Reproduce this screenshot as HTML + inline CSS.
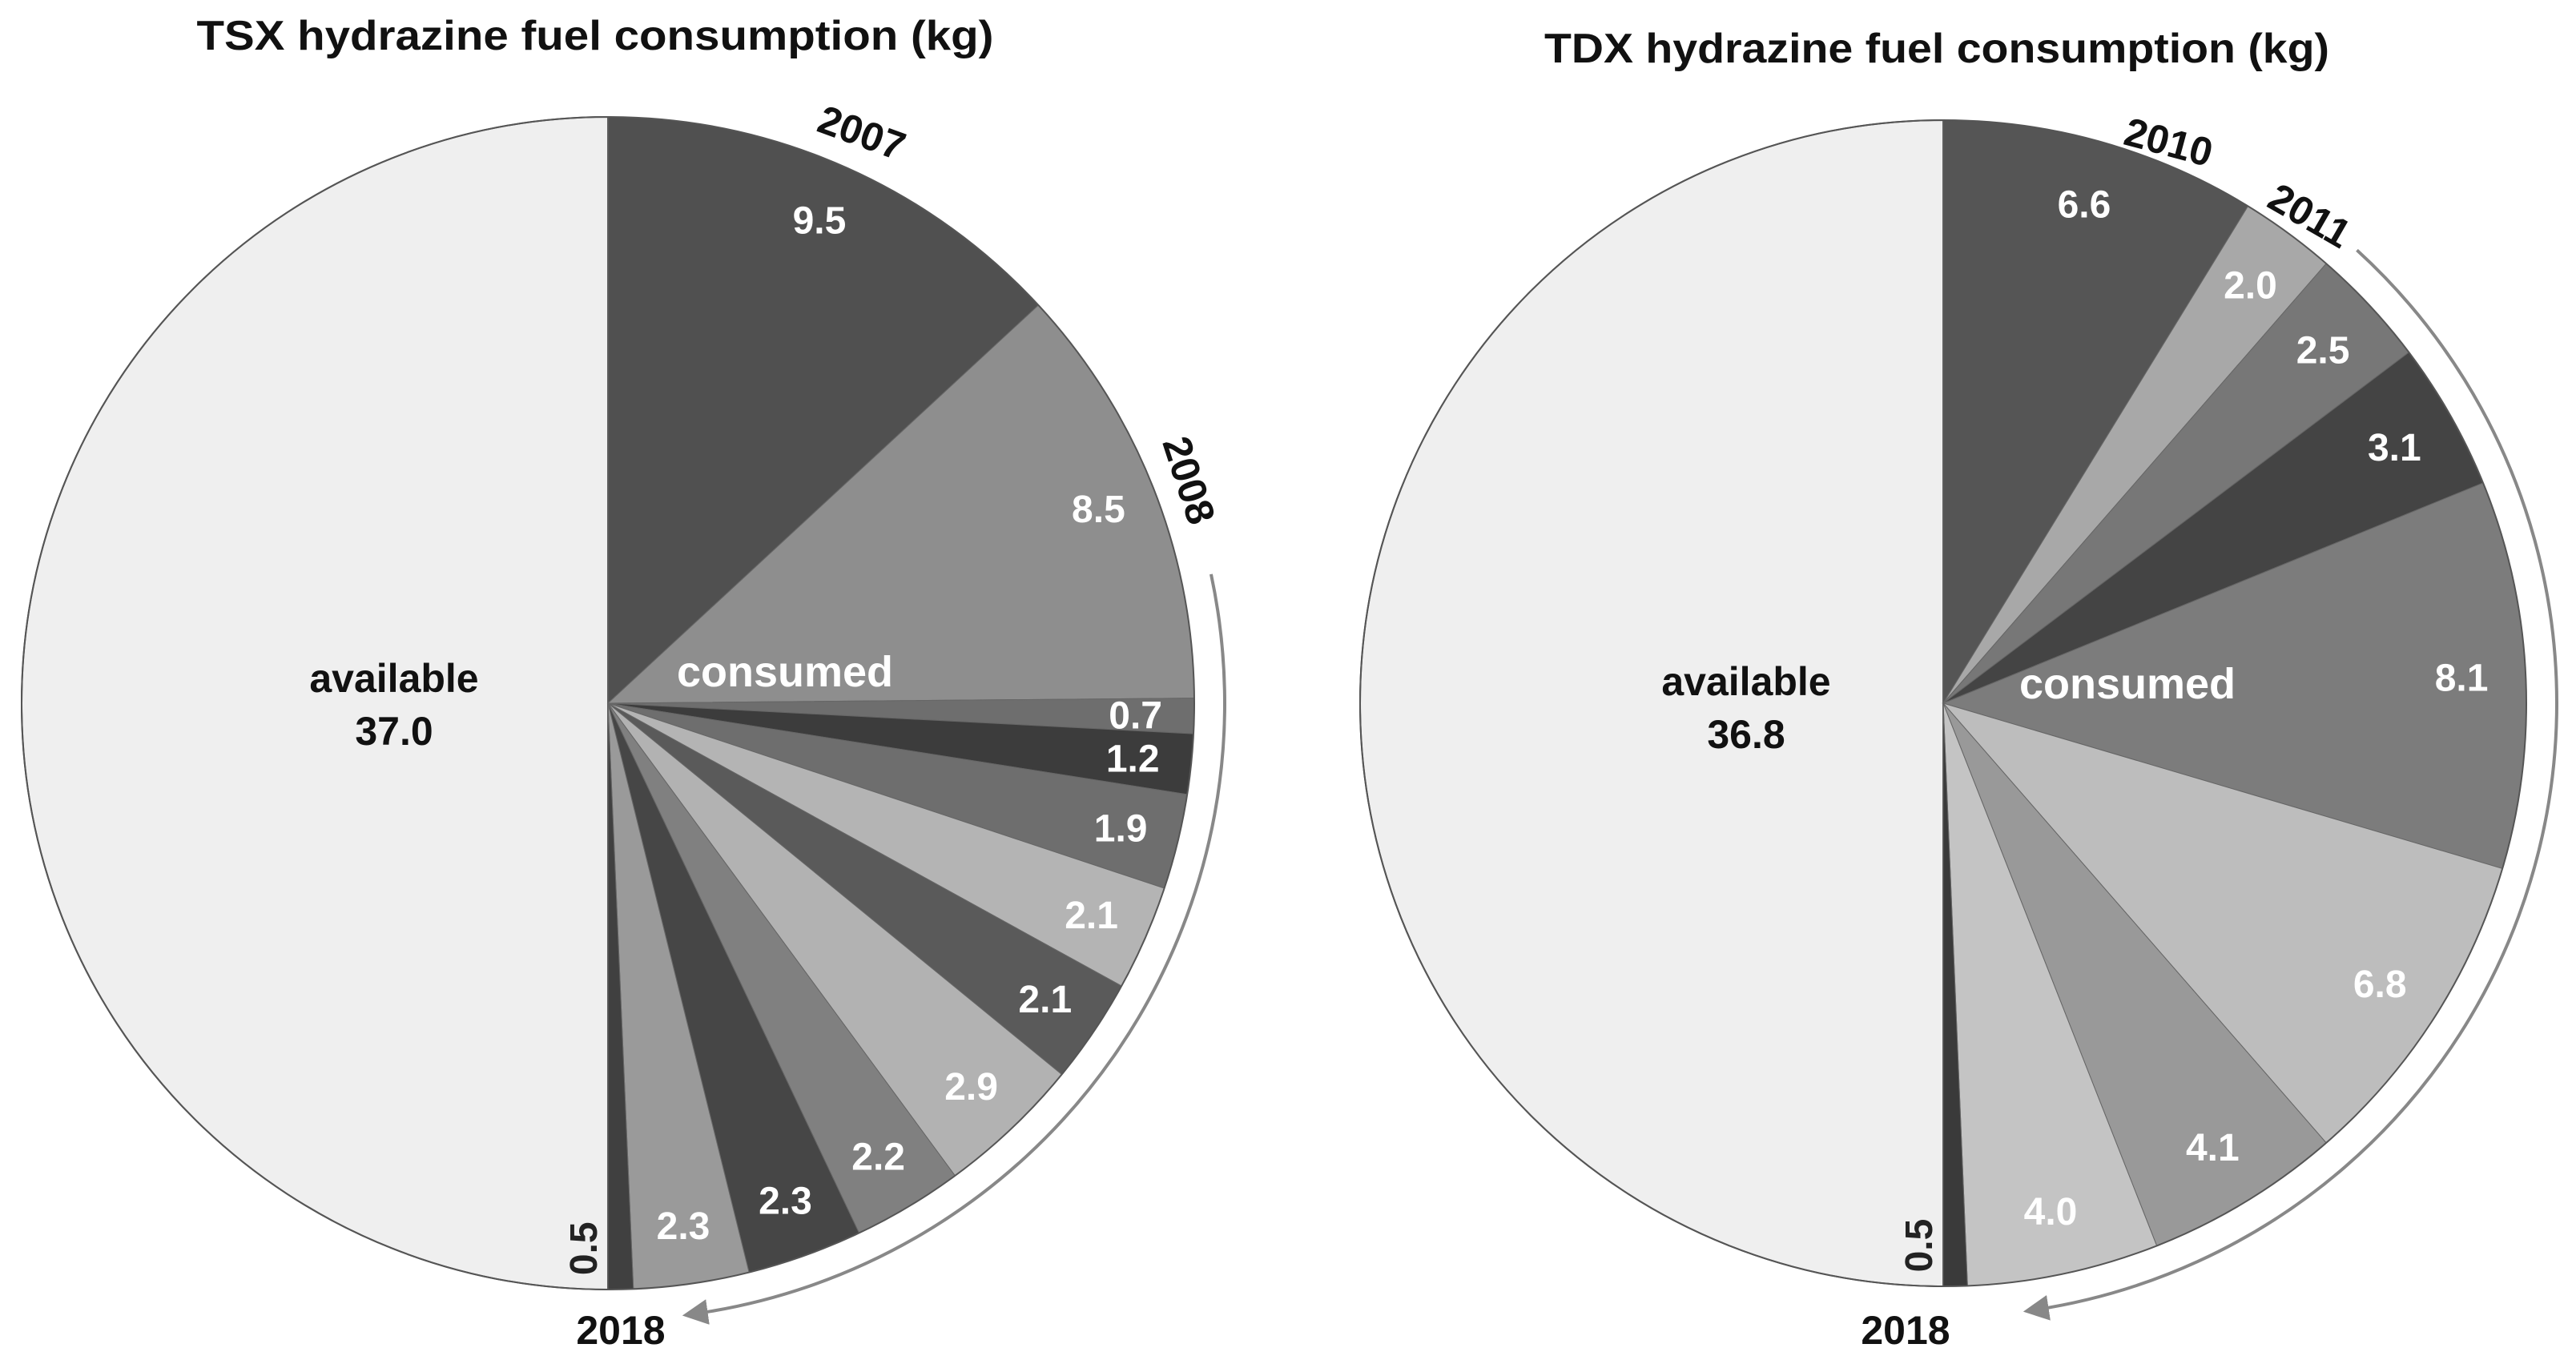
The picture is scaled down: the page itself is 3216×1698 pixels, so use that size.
<!DOCTYPE html>
<html><head><meta charset="utf-8">
<style>
html,body{margin:0;padding:0;background:#fff;}
svg{display:block;font-family:"Liberation Sans",sans-serif;}
</style></head>
<body>
<svg id="chart" width="3216" height="1698" viewBox="0 0 3216 1698" xmlns="http://www.w3.org/2000/svg">
<defs>
<marker id="arrowhead" markerWidth="8" markerHeight="8" refX="4" refY="4" orient="auto" markerUnits="strokeWidth">
<path d="M0,0 L8,4 L0,8 z" fill="#888"/>
</marker>
</defs>
<text x="743" y="62" text-anchor="middle" font-size="52" font-weight="bold" fill="#111" textLength="995" lengthAdjust="spacingAndGlyphs">TSX hydrazine fuel consumption (kg)</text>
<text x="2418" y="78" text-anchor="middle" font-size="52" font-weight="bold" fill="#111" textLength="980" lengthAdjust="spacingAndGlyphs">TDX hydrazine fuel consumption (kg)</text>
<g id="tsx"></g>
<g id="tdx"></g>
</svg>
<script>
// TSX data
const tsxLabels = ["9.5","8.5","0.7","1.2","1.9","2.1","2.1","2.9","2.2","2.3","2.3","0.5"];
const tsxValues = [9.5,8.5,0.7,1.2,1.9,2.1,2.1,2.9,2.2,2.3,2.3,0.5];
const tsxAvailable = 37.0;
const tsxColors = ["#505050","#8e8e8e","#6e6e6e","#3c3c3c","#6e6e6e","#b4b4b4","#5a5a5a","#b2b2b2","#808080","#464646","#9a9a9a","#404040"];
// TDX data
const tdxLabels = ["6.6","2.0","2.5","3.1","8.1","6.8","4.1","4.0","0.5"];
const tdxValues = [6.6,2.0,2.5,3.1,8.1,6.8,4.1,4.0,0.5];
const tdxAvailable = 36.8;
const tdxColors = ["#555555","#a8a8a8","#777777","#444444","#7c7c7c","#bdbdbd","#999999","#c4c4c4","#3a3a3a"];

const NS="http://www.w3.org/2000/svg";
function mk(tag, attrs, parent){const e=document.createElementNS(NS,tag);for(const k in attrs)e.setAttribute(k,attrs[k]);parent.appendChild(e);return e;}
function pt(cx,cy,r,a){return [cx+r*Math.sin(a), cy-r*Math.cos(a)];}

function drawPie(g, prefix, values, labels, colors, available, cx, cy, r, opts){
  const consumedTotal = values.reduce((s,v)=>s+v,0);
  let a0 = 0;
  const p1=pt(cx,cy,r,Math.PI), p2=pt(cx,cy,r,2*Math.PI);
  const av = mk('path',{d:`M${cx},${cy} L${p1[0]},${p1[1]} A${r},${r} 0 0 1 ${p2[0]},${p2[1]} Z`,fill:'#efefef',stroke:'#555','stroke-width':2},g);
  
  
  values.forEach((v,i)=>{
    const a1 = a0 + v/consumedTotal*Math.PI;
    const s=pt(cx,cy,r,a0), e=pt(cx,cy,r,a1);
    const p = mk('path',{d:`M${cx},${cy} L${s[0]},${s[1]} A${r},${r} 0 0 1 ${e[0]},${e[1]} Z`,fill:colors[i],stroke:'#666','stroke-width':1},g);
    
    
    const mid=(a0+a1)/2;
    if(i===values.length-1){
      const t = mk('text',{x:0,y:0,transform:`translate(${cx-14},${cy+r*0.93}) rotate(-90)`,'font-size':48,'font-weight':'bold',fill:'#222','text-anchor':'middle'},g);
      t.textContent=labels[i];
      
      
    } else {
      const lp=pt(cx,cy,opts.labelR*r,mid);
      const t = mk('text',{x:lp[0],y:lp[1]+17,'font-size':48,'font-weight':'bold',fill:'#fff','text-anchor':'middle'},g);
      t.textContent=labels[i];
      
      
    }
    a0=a1;
  });
  const c = mk('circle',{cx:cx,cy:cy,r:r,fill:'none',stroke:'#555','stroke-width':2},g);
  
  
  const ar = r+38;
  const as=pt(cx,cy,ar,opts.arcStart), ae=pt(cx,cy,ar,opts.arcEnd);
  const arc = mk('path',{d:`M${as[0]},${as[1]} A${ar},${ar} 0 0 1 ${ae[0]},${ae[1]}`,fill:'none',stroke:'#888','stroke-width':4,'marker-end':'url(#arrowhead)'},g);
  
  
}

drawPie(document.getElementById('tsx'),'tsx',tsxValues,tsxLabels,tsxColors,tsxAvailable,759,878,732,{labelR:0.9,arcStart:1.36,arcEnd:3.0});
drawPie(document.getElementById('tdx'),'tdx',tdxValues,tdxLabels,tdxColors,tdxAvailable,2426,878,728,{labelR:0.89,arcStart:0.74,arcEnd:2.99});

function txt(parent,x,y,s,opts,name){
  const t=mk('text',Object.assign({x:x,y:y,'font-size':50,'font-weight':'bold',fill:'#111','text-anchor':'middle'},opts||{}),parent);
  t.textContent=s;
  
  
  return t;
}
const g1=document.getElementById('tsx'), g2=document.getElementById('tdx');
txt(g1,492,864,'available',{},'tsx-available-label');
txt(g1,492,930,'37.0',{},'tsx-available-value');
txt(g1,980,857,'consumed',{fill:'#fff','font-size':54},'tsx-consumed-label');
txt(g1,0,0,'2007',{transform:'translate(1070,182) rotate(20)'},'tsx-year-2007');
txt(g1,0,0,'2008',{transform:'translate(1468,605) rotate(72)'},'tsx-year-2008');
txt(g1,775,1678,'2018',{},'tsx-year-2018');
txt(g2,2180,868,'available',{},'tdx-available-label');
txt(g2,2180,934,'36.8',{},'tdx-available-value');
txt(g2,2656,872,'consumed',{fill:'#fff','font-size':54},'tdx-consumed-label');
txt(g2,0,0,'2010',{transform:'translate(2703,194) rotate(15)'},'tdx-year-2010');
txt(g2,0,0,'2011',{transform:'translate(2875,284) rotate(30)'},'tdx-year-2011');
txt(g2,2379,1678,'2018',{},'tdx-year-2018');
</script>
</body></html>
